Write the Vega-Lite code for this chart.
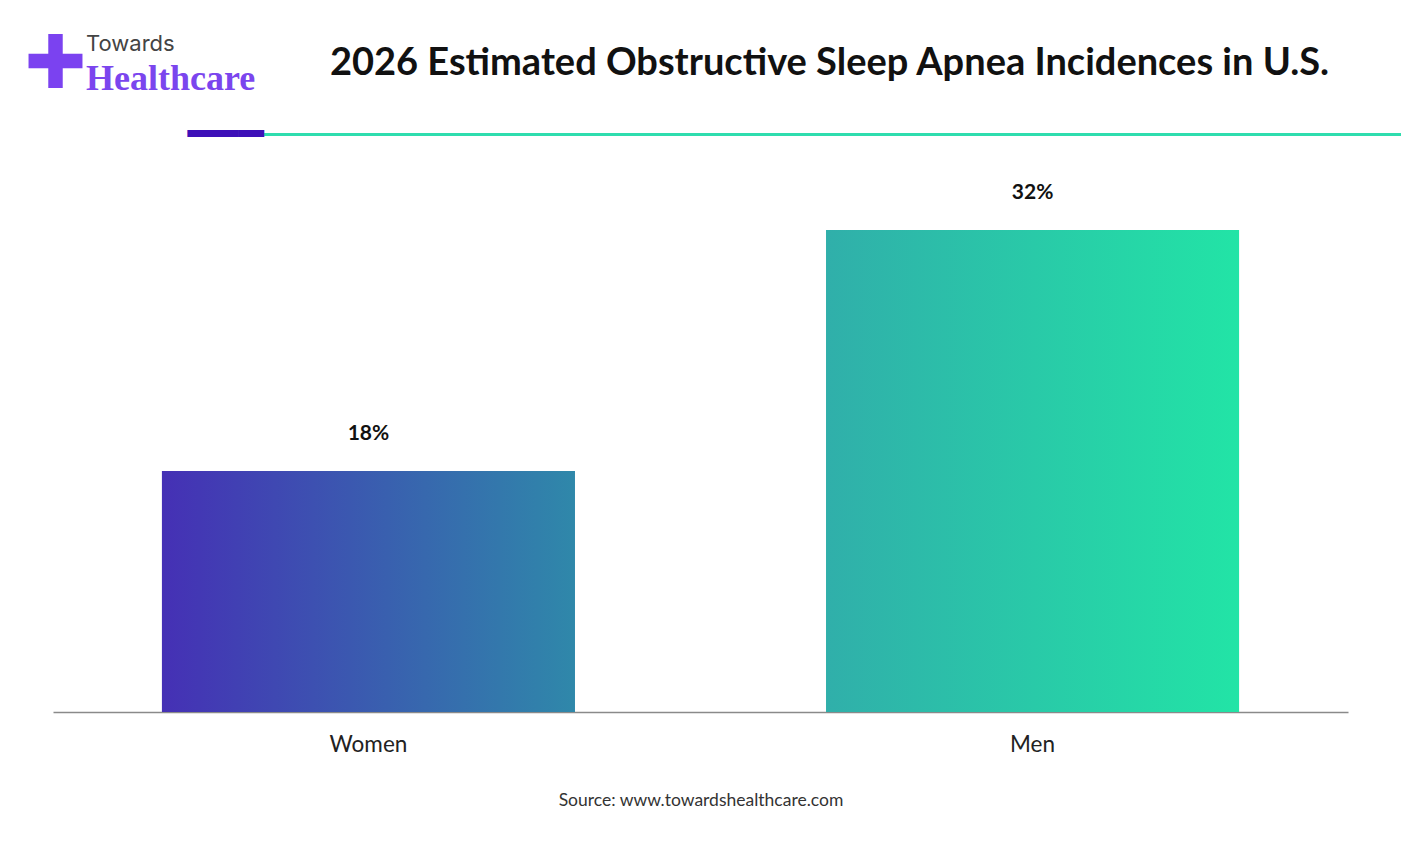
{
  "$schema": "https://vega.github.io/schema/vega-lite/v6.json",
  "autosize": {"type": "none"},
  "width": 1295,
  "height": 551,
  "padding": {"left": 53, "top": 161, "right": 53, "bottom": 131},
  "background": "#ffffff",
  "config": {"view": {"stroke": null}},
  "title": {
    "text": "Towards",
    "subtitle": "Healthcare",
    "anchor": "start",
    "frame": "group",
    "orient": "top",
    "dx": 33,
    "dy": 70,
    "offset": 0,
    "font": "Inter",
    "fontSize": 22,
    "fontWeight": "normal",
    "color": "#444444",
    "subtitleFont": "Liberation Serif",
    "subtitleFontSize": 36,
    "subtitleFontWeight": "bold",
    "subtitleColor": "#7B45EE",
    "subtitlePadding": 6
  },
  "data": {
    "values": [
      {"gender": "Women", "value": 0.18},
      {"gender": "Men", "value": 0.32}
    ]
  },
  "layer": [
    {
      "layer": [
        {
          "mark": {"type": "bar"},
          "encoding": {
            "x": {
              "field": "gender",
              "type": "nominal",
              "sort": null,
              "scale": {"paddingInner": 0.378, "paddingOuter": 0.164},
              "axis": {
                "orient": "bottom",
                "labelAngle": 0,
                "ticks": false,
                "tickSize": 0,
                "labelPadding": 21,
                "labelFont": "Lato",
                "labelFontSize": 22.5,
                "labelColor": "#222222",
                "domainColor": "#8a8a8a",
                "domainWidth": 1.5,
                "title": "Source: www.towardshealthcare.com",
                "titleFont": "Lato",
                "titleFontSize": 17.5,
                "titleFontWeight": "normal",
                "titleColor": "#333333",
                "titleX": 647.5,
                "titleY": 88,
                "titleAlign": "center",
                "titleBaseline": "middle"
              }
            },
            "y": {
              "field": "value",
              "type": "quantitative",
              "scale": {"domain": [0.04, 0.36], "zero": false, "nice": false},
              "axis": {
                "labels": false,
                "ticks": false,
                "domain": false,
                "grid": false,
                "title": "✚",
                "titleFont": "DejaVu Sans",
                "titleFontSize": 74,
                "titleFontWeight": "normal",
                "titleColor": "#7B42F0",
                "titleAngle": 0,
                "titleX": 2,
                "titleY": -96,
                "titleAlign": "center",
                "titleBaseline": "middle"
              }
            },
            "y2": {"datum": 0.04},
            "color": {
              "condition": {
                "test": "datum.gender === 'Women'",
                "value": {
                  "gradient": "linear",
                  "x1": 0, "y1": 0, "x2": 1, "y2": 0,
                  "stops": [
                    {"offset": 0, "color": "#4530B5"},
                    {"offset": 1, "color": "#2F88AA"}
                  ]
                }
              },
              "value": {
                "gradient": "linear",
                "x1": 0, "y1": 0, "x2": 1, "y2": 0,
                "stops": [
                  {"offset": 0, "color": "#30AFAA"},
                  {"offset": 1, "color": "#22E4A6"}
                ]
              }
            }
          }
        },
        {
          "mark": {"type": "text", "dy": -37, "baseline": "middle", "font": "Lato", "fontSize": 21, "fontWeight": "bold", "color": "#111111"},
          "encoding": {
            "x": {"field": "gender", "type": "nominal", "sort": null},
            "y": {"field": "value", "type": "quantitative"},
            "text": {"field": "value", "type": "quantitative", "format": ".0%"}
          }
        }
      ]
    },
    {
      "mark": {"type": "point", "opacity": 0},
      "encoding": {
        "x": {
          "field": "gender",
          "type": "nominal",
          "sort": null,
          "scale": {"range": [210, 1348]},
          "axis": {
            "orient": "top",
            "offset": 27,
            "labels": false,
            "ticks": false,
            "domainColor": "#2EDDAE",
            "domainWidth": 3,
            "title": "2026 Estimated Obstructive Sleep Apnea Incidences in U.S.",
            "titleFont": "Lato",
            "titleFontSize": 38,
            "titleFontWeight": "bold",
            "titleColor": "#111111",
            "titleX": 776,
            "titleY": -71,
            "titleAlign": "center",
            "titleBaseline": "middle"
          }
        },
        "y": {
          "field": "value",
          "type": "quantitative",
          "axis": {
            "orient": "right",
            "labels": false,
            "ticks": false,
            "domain": false,
            "grid": false,
            "title": "━━━",
            "titleFont": "DejaVu Sans Mono",
            "titleFontSize": 42,
            "titleFontWeight": "normal",
            "titleColor": "#3D10B8",
            "titleAngle": 0,
            "titleX": -1123,
            "titleY": -27,
            "titleAlign": "center",
            "titleBaseline": "middle"
          }
        }
      }
    }
  ],
  "resolve": {"scale": {"x": "independent", "y": "independent"}, "axis": {"x": "independent", "y": "independent"}}
}
